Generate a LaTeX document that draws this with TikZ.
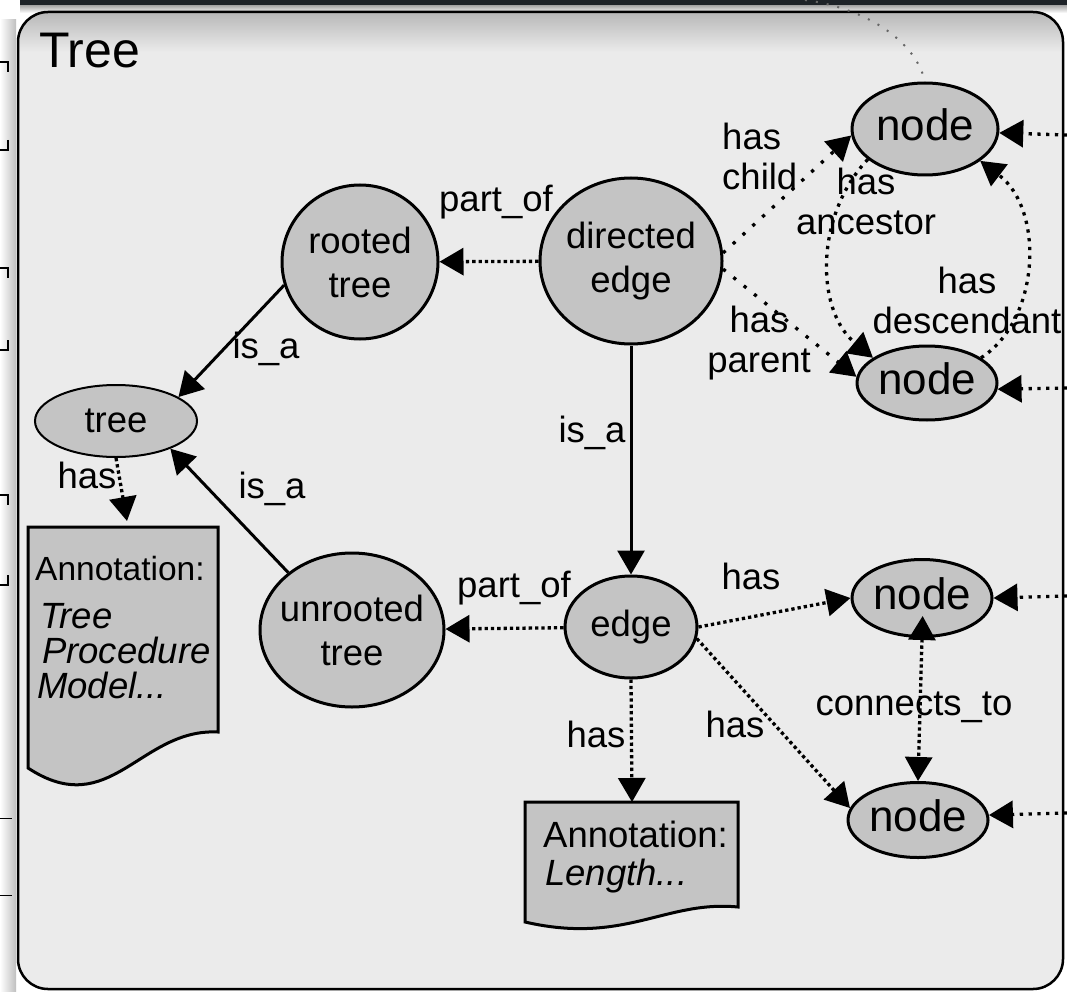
\documentclass[tikz,border=0pt]{standalone}
\usepackage{fontspec}
\setmainfont{Liberation Sans}
\usetikzlibrary{shapes.geometric,arrows.meta}

\definecolor{boxgray}{HTML}{EBEBEB}
\definecolor{ellgray}{HTML}{C4C4C4}
\definecolor{barcol}{HTML}{1E2328}

\tikzset{
  >={Triangle[length=24pt,width=27pt]},
  ell/.style={ellipse, draw=black, line width=3pt, fill=ellgray, inner sep=-10pt,
    align=center, font=\fontsize{36.5}{44}\selectfont},
  nodeell/.style={ell, font=\fontsize{44}{48}\selectfont, text depth=9pt},
  lbl/.style={inner sep=0pt, anchor=base, font=\fontsize{36.5}{40}\selectfont},
  anntxt/.style={inner sep=0pt, anchor=base west},
  isa/.style={line width=3pt, ->},
  hasdense/.style={isa, line width=3.3pt, dash pattern=on 3.3pt off 3pt},
  hasmid/.style={isa, line width=3.3pt, dash pattern=on 3.3pt off 5.5pt},
  hassparse/.style={isa, line width=3.3pt, dash pattern=on 3.3pt off 10pt},
  docbox/.style={draw=black, line width=3pt, fill=ellgray}
}

\begin{document}
\begin{tikzpicture}[x=1pt,y=-1pt]
\useasboundingbox (0,0) rectangle (1067,992);
\fill[white] (0,0) rectangle (1067,992);

%% left strip and top bar
\shade[left color=white, right color=black!25] (0,20) rectangle (16,992);
\foreach \y in {62,268,495} \draw[line width=1.5pt] (0,\y) -- (8,\y) -- (8,\y+10);
\foreach \y in {150,350,585} \draw[line width=1.5pt] (8,\y-10) -- (8,\y) -- (0,\y);
\foreach \y in {818,895} \draw[line width=1pt] (0,\y) -- (12,\y);
\shade[top color=black!45, bottom color=white] (20,3) rectangle (1067,13);
\fill[barcol] (20,0) rectangle (1067,5);

%% the box
\fill[boxgray, rounded corners=30pt] (18,12) rectangle (1063,989);
\begin{scope}
  \clip[rounded corners=30pt] (18,12) rectangle (1063,989);
  \shade[top color=black!28, bottom color=boxgray] (18,12) rectangle (1063,52);
\end{scope}
\draw[line width=2.5pt, rounded corners=30pt] (18,12) rectangle (1063,989);
\node[anchor=base west, inner sep=0pt, font=\fontsize{50}{55}\selectfont] (title) at (39,68) {Tree};

%% concepts
\node[ell, minimum width=156pt, minimum height=154pt] (rooted) at (360,262) {rooted\\tree};
\node[ell, minimum width=182pt, minimum height=166pt] (directed) at (631,261) {directed\\edge};
\node[ell, minimum width=162pt, minimum height=72pt, line width=2pt] (tree) at (116,421) {tree};
\node[ell, minimum width=184pt, minimum height=154pt] (unrooted) at (352,630) {unrooted\\tree};
\node[ell, minimum width=132pt, minimum height=102pt] (edge) at (631,627) {edge};

\foreach \nm/\x/\y/\w/\h in {nA/925/129/146/92, nB/927/383/140/74, nC/922/598/140/77, nD/918/820/140/75}
  \node[nodeell, minimum width=\w pt, minimum height=\h pt] (\nm) at (\x,\y) {node};

%% annotations
\draw[docbox] (28,527) -- (218,527) -- (218,732) .. controls (140,728) and (110,822) .. (28,768) -- cycle;
\coordinate (annTree) at (127,521);
\node[anntxt, font=\fontsize{33.5}{36}\selectfont] (annT1) at (35,580) {Annotation:};
\node[anntxt, font=\fontsize{36.5}{40}\selectfont\itshape] (annT2) at (40,628) {Tree};
\node[anntxt, font=\fontsize{36.5}{40}\selectfont\itshape] (annT3) at (42,663) {Procedure};
\node[anntxt, font=\fontsize{36.5}{40}\selectfont\itshape] (annT4) at (37,698) {Model...};

\draw[docbox] (525,802) -- (738,802) -- (738,907) .. controls (665,900) and (625,945) .. (525,922) -- cycle;
\coordinate (annEdge) at (632,802);
\node[anntxt, font=\fontsize{36.5}{40}\selectfont] (annL1) at (543,847) {Annotation:};
\node[anntxt, font=\fontsize{36.5}{40}\selectfont\itshape] (annL2) at (545,885) {Length...};

%% relations
\draw[hasdense] (directed) -- (rooted);
\draw[isa] (rooted.197) -- (tree.21);
\draw[isa] (unrooted.138) -- (tree.-27);
\draw[hasdense] (tree.south) -- (annTree);
\draw[hasdense] (edge) -- (unrooted);
\draw[isa] (directed) -- (edge);
\draw[hasdense] (edge.south) -- (annEdge);
\draw[hasdense] (edge.east) -- (nC.west);
\draw[hasdense] (edge.-10) -- (nD.170);
\draw[hasdense, <->, shorten <=-22pt] (nC.south) -- (nD.north);
\draw[hassparse] (directed.5) -- (nA.185);
\draw[hassparse] (directed.-5) -- (nB.175);
\draw[hasmid] (nA.208) .. controls (815,215) and (815,310) .. (nB.155);
\draw[hasmid] (nB.25) .. controls (1040,320) and (1045,210) .. (nA.-30);

%% from outside the box
\foreach \nm/\ey/\a in {nA/135/-3, nB/388/-5, nC/596/0, nD/813/4}
{
  \coordinate (ext\nm) at (1067,\ey);
  \draw[hasmid] (ext\nm) -- (\nm.\a);
}
\coordinate (extTop) at (805,0);
\draw[black!60, line width=2pt, dash pattern=on 2pt off 9pt] (extTop) .. controls (865,8) and (915,40) .. (nA.north);

%% labels
\foreach \x/\y/\t [count=\i] in {496/212/part\_of, 266/358/is\_a, 272/498/is\_a, 87/488/has,
  592/442/is\_a, 514/597/part\_of, 751/589/has, 596/747/has, 735/737/has, 914/715/connects\_to}
  \node[lbl] (lbl\i) at (\x,\y) {\t};

%% two lines: placed at the baseline of the lower line
\node[lbl, align=left, anchor=base west] (lblChild) at (722,190) {has\\child};
\node[lbl, align=center] (lblAnc) at (866,235) {has\\ancestor};
\node[lbl, align=center] (lblDesc) at (967,333) {has\\descendant};
\node[lbl, align=center] (lblPar) at (759,372) {has\\parent};

\end{tikzpicture}
\end{document}
